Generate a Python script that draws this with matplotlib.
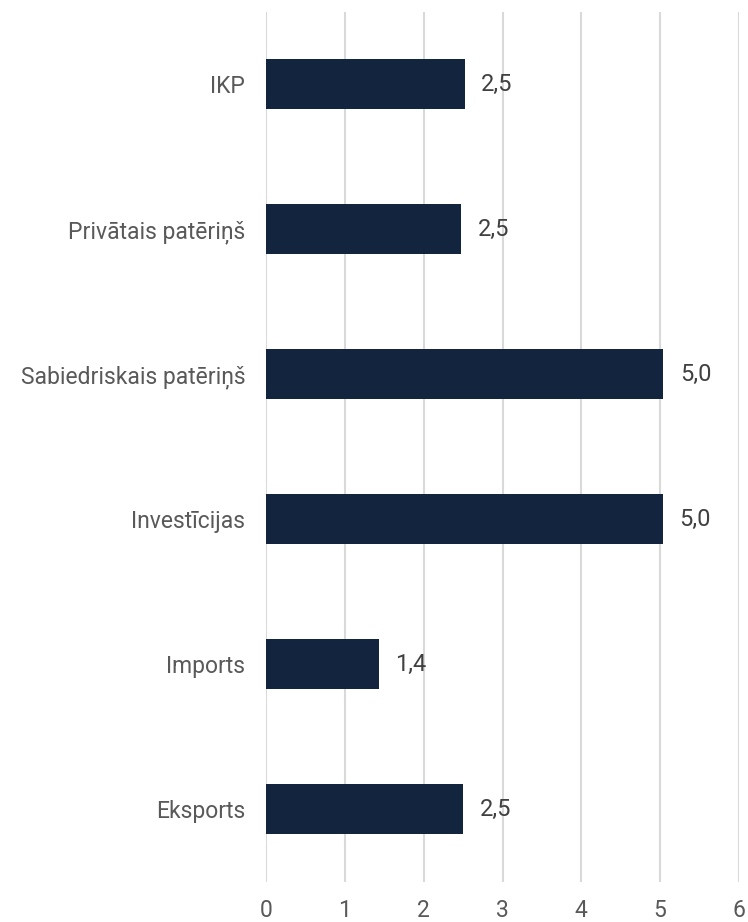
import matplotlib.pyplot as plt

plt.rcParams["font.family"] = ["Roboto", "DejaVu Sans"]

categories = ["IKP", "Privātais patēriņš", "Sabiedriskais patēriņš",
              "Investīcijas", "Imports", "Eksports"]
values = [2.52, 2.47, 5.04, 5.03, 1.43, 2.5]
labels = ["2,5", "2,5", "5,0", "5,0", "1,4", "2,5"]

fig = plt.figure(figsize=(7.48, 9.22), dpi=100)
ax = fig.add_axes([0.3556, 0.0434, 0.6324, 0.9436])

y = list(range(len(categories)))[::-1]
ax.barh(y, values, height=0.345, color="#13243F", zorder=3)
for yi, v, lab in zip(y, values, labels):
    ax.annotate(lab, (v, yi), xytext=(12, 0), textcoords="offset points",
                va="center", ha="left", fontsize=17, color="#404040")

ax.set_xlim(0, 6)
ax.set_ylim(-0.5, len(categories) - 0.5)
ax.set_xticks(range(7))
ax.set_yticks(y)
ax.set_yticklabels(categories)
ax.tick_params(axis="both", length=0, labelsize=16.5, colors="#595959")
ax.tick_params(axis="x", pad=12)
ax.tick_params(axis="y", pad=15)
ax.grid(axis="x", color="#D9D9D9", linewidth=1.5, zorder=0)
for s in ax.spines.values():
    s.set_visible(False)

plt.savefig("out.png", dpi=100)
